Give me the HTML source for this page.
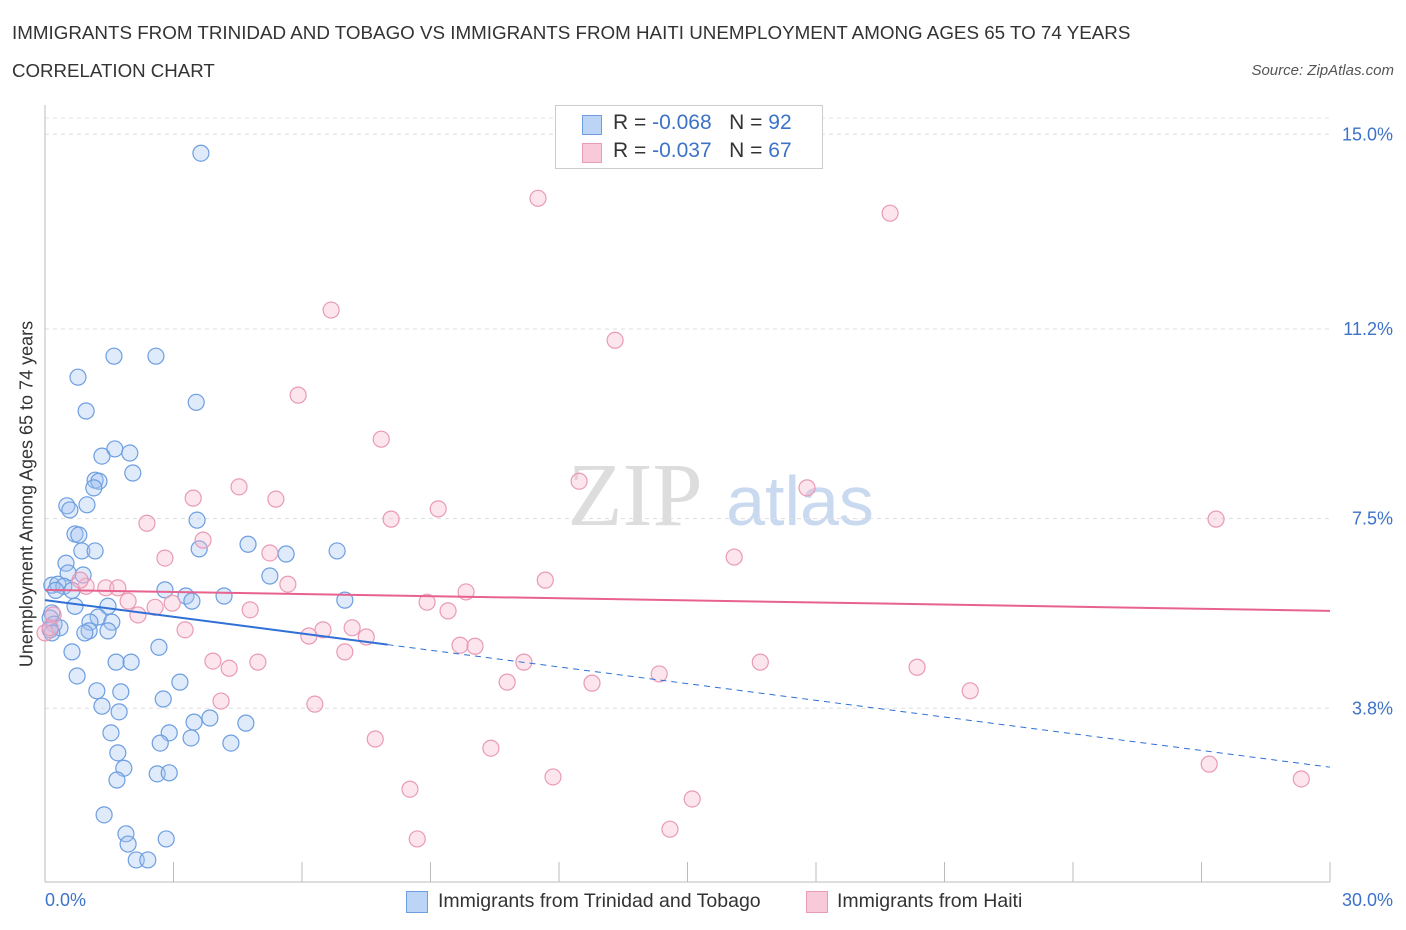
<!DOCTYPE html>
<html><head><meta charset="utf-8">
<style>
body{margin:0;background:#fff;font-family:"Liberation Sans",sans-serif;}
#wrap{position:relative;width:1406px;height:930px;overflow:hidden;}
.t{position:absolute;white-space:nowrap;}
</style></head><body>
<div id="wrap">
<div class="t" style="left:12px;top:22px;font-size:18.8px;color:#333;">IMMIGRANTS FROM TRINIDAD AND TOBAGO VS IMMIGRANTS FROM HAITI UNEMPLOYMENT AMONG AGES 65 TO 74 YEARS</div>
<div class="t" style="left:12px;top:60px;font-size:18.7px;color:#333;">CORRELATION CHART</div>
<div class="t" style="right:12px;top:62px;font-size:15px;color:#555;font-style:italic;">Source: ZipAtlas.com</div>
<svg id="svg" width="1406" height="930" style="position:absolute;left:0;top:0"></svg>
</div>
<script>
const blueX=[3.64,1.61,2.59,0.77,0.96,3.53,1.63,1.33,1.98,2.05,1.17,1.26,1.14,0.51,0.58,0.98,3.55,0.70,0.79,0.86,1.17,3.60,4.74,5.63,6.82,0.49,0.54,0.89,5.25,0.16,0.30,0.44,0.63,0.25,2.80,3.29,4.18,3.43,7.00,0.70,1.47,0.16,0.12,0.21,0.35,0.12,1.24,1.05,1.56,1.03,0.93,1.47,0.16,0.63,2.66,1.66,2.01,0.75,3.15,1.21,1.77,2.76,1.33,1.73,3.85,3.48,4.69,1.54,2.90,3.41,2.69,4.34,1.70,1.84,2.62,2.90,1.68,1.38,1.89,2.83,1.94,2.13,2.40];
const blueY=[14.63,10.67,10.67,10.26,9.60,9.77,8.86,8.72,8.78,8.39,8.25,8.23,8.10,7.75,7.67,7.77,7.47,7.20,7.18,6.87,6.87,6.91,7.00,6.81,6.87,6.63,6.44,6.40,6.38,6.20,6.22,6.18,6.10,6.10,6.11,5.99,5.99,5.89,5.91,5.79,5.79,5.66,5.56,5.44,5.37,5.33,5.58,5.48,5.48,5.31,5.27,5.31,5.27,4.90,4.99,4.70,4.70,4.43,4.31,4.14,4.12,3.98,3.84,3.73,3.61,3.53,3.51,3.32,3.32,3.22,3.12,3.12,2.93,2.63,2.52,2.54,2.40,1.72,1.35,1.25,1.15,0.84,0.84];
const pinkX=[16.46,11.51,19.73,6.68,13.31,5.91,7.85,12.47,4.53,17.79,3.46,5.39,9.18,2.38,8.08,27.34,3.69,2.80,16.09,5.25,11.68,5.67,1.42,1.70,0.96,0.82,9.83,1.94,2.97,2.57,8.92,9.41,4.79,2.17,0.19,3.27,6.49,7.17,6.16,7.50,7.00,9.69,10.04,3.92,4.30,4.97,11.18,14.34,16.70,20.36,10.79,12.77,4.11,6.30,21.60,7.71,10.41,11.86,8.52,27.18,29.33,15.11,14.59,8.69,0.0,0.12];
const pinkY=[14.79,13.75,13.46,11.57,10.98,9.91,9.05,8.23,8.12,8.10,7.90,7.88,7.69,7.41,7.49,7.49,7.08,6.73,6.75,6.83,6.30,6.22,6.15,6.15,6.18,6.30,6.07,5.89,5.85,5.77,5.87,5.70,5.72,5.62,5.62,5.33,5.33,5.37,5.21,5.19,4.90,5.03,5.01,4.72,4.58,4.70,4.70,4.47,4.70,4.60,4.31,4.29,3.94,3.88,4.14,3.20,3.02,2.46,2.22,2.71,2.42,2.03,1.44,1.25,5.27,5.37];
const yTicks=[15.0,11.2,7.5,3.8];
const yTickLabels=["15.0%","11.2%","7.5%","3.8%"];
const blueTrend=[5.91,2.65];
const pinkTrend=[6.11,5.70];
const blueSolidEnd=8.0;

const X0=45,X1=1330;
const xs=v=>X0+(v/30)*(X1-X0);
const ys=v=>903-v*51.25;
const svg=document.getElementById('svg');
const NS='http://www.w3.org/2000/svg';
function mk(tag,attrs,parent){const e=document.createElementNS(NS,tag);for(const k in attrs)e.setAttribute(k,attrs[k]);(parent||svg).appendChild(e);return e;}

let wm=mk('text',{x:635,y:525,'font-size':90,'font-family':'Liberation Serif, serif',fill:'#ddd','text-anchor':'middle'});


wm.textContent='ZIP';
let wm2=mk('text',{x:800,y:525,'font-size':70,'font-family':'Liberation Sans, sans-serif',fill:'#c9d9ef','text-anchor':'middle'});


wm2.textContent='atlas';

yTicks.forEach((t,i)=>{
  const g=mk('line',{x1:X0,x2:X1,y1:ys(t),y2:ys(t),stroke:'#ddd','stroke-dasharray':'4,4'});
  
  
  const l=mk('text',{x:1393,y:ys(t)+6,'font-size':18,fill:'#3d72c9','text-anchor':'end'});
  
  
  l.textContent=yTickLabels[i];
});
mk('line',{x1:X0,x2:X1,y1:118,y2:118,stroke:'#e4e4e4','stroke-dasharray':'4,4'});
let ax=mk('line',{x1:X0,x2:X0,y1:105,y2:882,stroke:'#bbb'});


let bx=mk('line',{x1:X0,x2:X1,y1:882,y2:882,stroke:'#bbb'});


for(let i=0;i<=10;i++){mk('line',{x1:xs(i*3),x2:xs(i*3),y1:862,y2:882,stroke:'#bbb'});}

function dots(X,Y,fill,stroke,name){
  X.forEach((x,i)=>{
    const c=mk('circle',{cx:xs(x),cy:ys(Y[i]),r:8,fill:fill,stroke:stroke,'stroke-width':1.2});
    
    
  });
}
dots(blueX,blueY,'rgba(164,196,240,0.35)','#6d9ee0','point-trinidad');
dots(pinkX,pinkY,'rgba(246,180,204,0.35)','#e99ab6','point-haiti');

const by=x=>blueTrend[0]+(blueTrend[1]-blueTrend[0])*x/30;
let bt=mk('line',{x1:xs(0),y1:ys(by(0)),x2:xs(blueSolidEnd),y2:ys(by(blueSolidEnd)),stroke:'#2f6fd6','stroke-width':2});


let bd=mk('line',{x1:xs(blueSolidEnd),y1:ys(by(blueSolidEnd)),x2:xs(30),y2:ys(by(30)),stroke:'#2f6fd6','stroke-width':1,'stroke-dasharray':'6,5'});


let pt=mk('line',{x1:xs(0),y1:ys(pinkTrend[0]),x2:xs(30),y2:ys(pinkTrend[1]),stroke:'#e8628f','stroke-width':2});


</script>
<div style="position:absolute;left:555px;top:105px;width:266px;height:62px;border:1px solid #ccc;background:#fff;">
 <div style="position:absolute;left:26px;top:9px;width:18px;height:18px;background:#bcd4f5;border:1px solid #6d9ee0;"></div>
 <div class="t" style="left:57px;top:5px;font-size:21px;color:#333;">R = <span style="color:#3d72c9">-0.068</span>&nbsp;&nbsp;&nbsp;N = <span style="color:#3d72c9">92</span></div>
 <div style="position:absolute;left:26px;top:37px;width:18px;height:18px;background:#f8c9d9;border:1px solid #e99ab6;"></div>
 <div class="t" style="left:57px;top:33px;font-size:21px;color:#333;">R = <span style="color:#3d72c9">-0.037</span>&nbsp;&nbsp;&nbsp;N = <span style="color:#3d72c9">67</span></div>
</div>
<div class="t" style="left:45px;top:890px;font-size:18px;color:#3d72c9;">0.0%</div>
<div class="t" style="right:13px;top:890px;font-size:18px;color:#3d72c9;">30.0%</div>
<div style="position:absolute;left:406px;top:891px;width:20px;height:20px;background:#bcd4f5;border:1px solid #6d9ee0;"></div>
<div class="t" style="left:438px;top:890px;font-size:19.5px;color:#333;">Immigrants from Trinidad and Tobago</div>
<div style="position:absolute;left:806px;top:891px;width:20px;height:20px;background:#f8c9d9;border:1px solid #e99ab6;"></div>
<div class="t" style="left:837px;top:890px;font-size:19.5px;color:#333;">Immigrants from Haiti</div>
<div class="t" style="left:27px;top:494px;font-size:18px;color:#333;transform:translate(-50%,-50%) rotate(-90deg);">Unemployment Among Ages 65 to 74 years</div>
</body></html>
